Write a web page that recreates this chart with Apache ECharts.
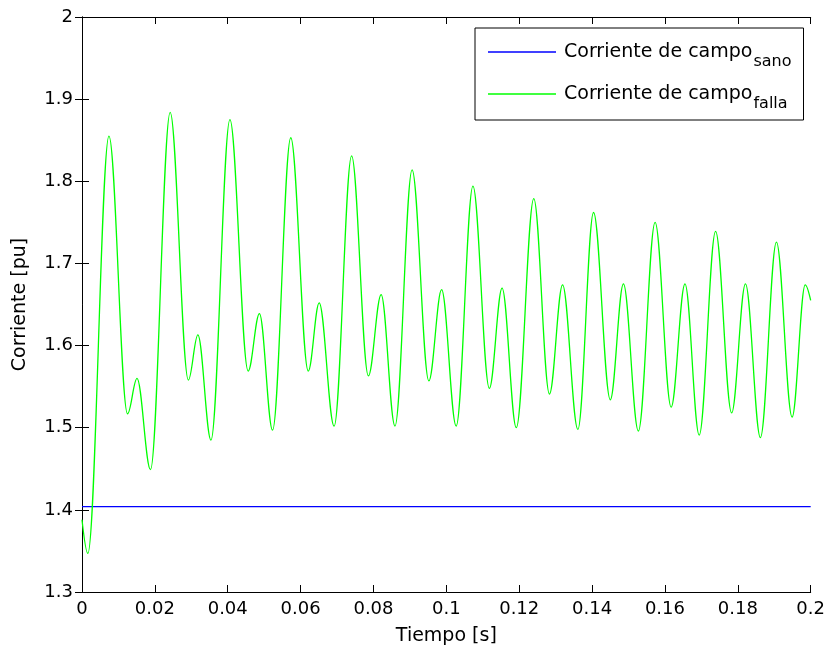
<!DOCTYPE html>
<html>
<head>
<meta charset="utf-8">
<script src="https://cdn.jsdelivr.net/npm/echarts@6/dist/echarts.min.js"></script>
<style>
html,body{margin:0;padding:0;background:#fff;}
#chart{width:828px;height:653px;}
</style>
</head>
<body>
<div id="chart"></div>
<script>
// Reference values
var xTicks = [0, 0.02, 0.04, 0.06, 0.08, 0.1, 0.12, 0.14, 0.16, 0.18, 0.2];
var yTicks = [1.3, 1.4, 1.5, 1.6, 1.7, 1.8, 1.9, 2];

var seriesNames = ['Corriente de campo|sano', 'Corriente de campo|falla'];

var tiempoSano = [0, 0.2];
var corrienteSano = [1.404, 1.404];

// turning points (peaks and troughs) of the fault current
var tiempoFalla = [
  0.0000, 0.0016, 0.0074, 0.0125, 0.0151, 0.0188,
  0.0242, 0.0292, 0.0318, 0.0354,
  0.0406, 0.0456, 0.0487, 0.0523,
  0.0573, 0.0621, 0.0651, 0.0692,
  0.0740, 0.0786, 0.0821, 0.0859,
  0.0906, 0.0952, 0.0987, 0.1027,
  0.1073, 0.1118, 0.1153, 0.1192,
  0.1240, 0.1283, 0.1319, 0.1361,
  0.1404, 0.1450, 0.1486, 0.1527,
  0.1573, 0.1617, 0.1655, 0.1694,
  0.1739, 0.1783, 0.1821, 0.1862,
  0.1906, 0.1949, 0.1985, 0.2000
];
var corrienteFalla = [
  1.388, 1.347, 1.855, 1.517, 1.560, 1.449,
  1.884, 1.558, 1.613, 1.485,
  1.875, 1.569, 1.639, 1.497,
  1.853, 1.569, 1.652, 1.502,
  1.831, 1.563, 1.662, 1.502,
  1.814, 1.557, 1.668, 1.502,
  1.794, 1.548, 1.670, 1.500,
  1.779, 1.541, 1.674, 1.498,
  1.762, 1.534, 1.675, 1.496,
  1.750, 1.525, 1.675, 1.491,
  1.739, 1.518, 1.675, 1.488,
  1.726, 1.513, 1.674, 1.655
];

function zip(xs, ys) { return xs.map(function (x, i) { return [x, ys[i]]; }); }

var FONT = 'DejaVu Sans';
var chart = echarts.init(document.getElementById('chart'), null, { renderer: 'canvas' });

var baseX = {
  type: 'value', min: xTicks[0], max: xTicks[xTicks.length - 1], interval: 0.02,
  axisLine: { show: true, lineStyle: { color: '#000', width: 1 } },
  axisTick: { show: true, inside: true, length: 7, lineStyle: { color: '#000' } },
  splitLine: { show: false }
};
var baseY = {
  type: 'value', min: yTicks[0], max: yTicks[yTicks.length - 1], interval: 0.1,
  axisLine: { show: true, lineStyle: { color: '#000', width: 1 } },
  axisTick: { show: true, inside: true, length: 7, lineStyle: { color: '#000' } },
  splitLine: { show: false }
};

chart.setOption({
  animation: false,
  backgroundColor: '#fff',
  grid: { left: 82, right: 15, top: 17, bottom: 61, containLabel: false },
  xAxis: [
    Object.assign({}, baseX, {
      position: 'bottom',
      name: 'Tiempo [s]', nameLocation: 'middle', nameGap: 35,
      nameTextStyle: { fontFamily: FONT, fontSize: 19, color: '#000' },
      axisLabel: { fontFamily: FONT, fontSize: 18, color: '#000', margin: 8,
        formatter: function (v) { return String(+v.toFixed(2)); } }
    }),
    Object.assign({}, baseX, { position: 'top', axisLabel: { show: false } })
  ],
  yAxis: [
    Object.assign({}, baseY, {
      position: 'left',
      name: 'Corriente [pu]', nameLocation: 'middle', nameGap: 52,
      nameTextStyle: { fontFamily: FONT, fontSize: 19, color: '#000' },
      axisLabel: { fontFamily: FONT, fontSize: 18, color: '#000', margin: 9,
        formatter: function (v) { return String(+v.toFixed(1)); } }
    }),
    Object.assign({}, baseY, { position: 'right', axisLabel: { show: false } })
  ],
  legend: {
    orient: 'vertical', left: 475, top: 28,
    backgroundColor: '#fff', borderColor: '#000', borderWidth: 1, borderRadius: 0,
    padding: [6, 12, 8, 13], itemGap: 6,
    icon: 'rect', itemWidth: 68, itemHeight: 1.5,
    data: seriesNames,
    formatter: function (name) {
      var p = name.split('|');
      return '{a|' + p[0] + '}{b|' + p[1] + '}';
    },
    textStyle: {
      fontFamily: FONT, color: '#000', padding: [0, 0, 0, 0],
      rich: {
        a: { fontFamily: FONT, fontSize: 19, lineHeight: 19, color: '#000', verticalAlign: 'middle', padding: [0, 0, 0, 3] },
        b: { fontFamily: FONT, fontSize: 16, lineHeight: 16, color: '#000', verticalAlign: 'middle', padding: [20, 0, 0, 1] }
      }
    }
  },
  series: [
    {
      name: seriesNames[0], type: 'line', xAxisIndex: 0, yAxisIndex: 0,
      data: zip(tiempoSano, corrienteSano),
      symbol: 'none', showSymbol: false,
      lineStyle: { color: '#0000ff', width: 1.2 }, itemStyle: { color: '#0000ff' },
      z: 2
    },
    {
      name: seriesNames[1], type: 'line', xAxisIndex: 0, yAxisIndex: 0,
      data: zip(tiempoFalla, corrienteFalla),
      symbol: 'none', showSymbol: false, smooth: 0.36, smoothMonotone: 'x',
      lineStyle: { color: '#00ff00', width: 1.3 }, itemStyle: { color: '#00ff00' },
      z: 3
    }
  ]
});
</script>
</body>
</html>
